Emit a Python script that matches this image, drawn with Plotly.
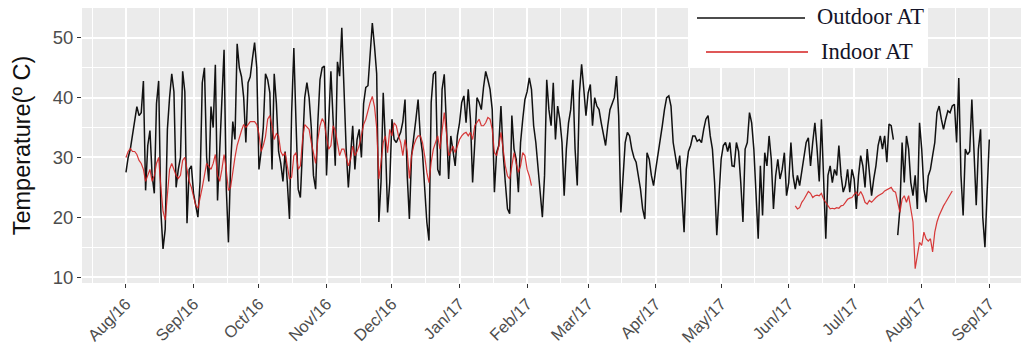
import pandas as pd
import plotly.graph_objects as go

# Daily outdoor air temperature (deg C), one list per month
out_aug16 = [27.5, 30, 31.4, 34, 36.5, 38.5, 37, 37.5, 42.8, 24.5, 32, 34.5, 27, 24, 39, 42.8,
             21, 14.7, 18, 34.7, 40, 44, 41, 25, 28, 30, 44.4, 41, 19, 28, 28.6]
out_sep16 = [24, 22, 20, 26, 42.5, 45, 30, 26, 38.5, 35, 45.5, 22.8, 31, 37.5, 48, 25,
             15.8, 28.6, 36, 33, 49, 45, 43.5, 40, 32.5, 42.5, 43.5, 46.5, 49.2, 45]
out_oct16 = [28, 31, 35, 44, 43, 40.8, 28, 44, 39, 31, 29, 26, 31, 25.8, 19.7, 37.5,
             48.3, 35.8, 24.7, 23.3, 32.5, 40, 42.5, 40, 35, 27, 24.7, 35.8, 43, 45, 45.3]
out_nov16 = [27, 36, 44.4, 36.4, 28.6, 46, 43.6, 51.7, 39.7, 31.4, 25, 31, 35.3, 28, 33,
             34.7, 30, 39, 41.7, 42, 47.5, 52.5, 48.6, 44, 19.2, 26, 40.8, 32.5, 20.8, 25.8]
out_dec16 = [36.4, 33, 32.5, 33.3, 34.2, 36, 39.7, 27, 19.7, 30.3, 33, 36.4, 39.7, 33.6,
             30.8, 25.8, 19.2, 16.1, 39.2, 43.9, 44.4, 28, 27, 41.4, 43.9, 35.3, 26.4, 33.6,
             30.8, 28.6, 33.6]
out_jan17 = [35.8, 39.2, 40.3, 35.8, 41.4, 36.4, 25.8, 32.5, 40, 39.2, 38, 41.7, 44.4, 43,
             41.4, 38, 24.2, 30.8, 32, 38.6, 30.8, 25.8, 21.4, 20.6, 37, 31.4, 29.7, 24.2,
             32.5, 36.4, 39.7]
out_feb17 = [41, 43.3, 41.4, 35.3, 32.5, 28, 24.7, 20, 27, 43, 38, 35.3, 42.5, 33, 38.6,
             36.4, 32.5, 23.6, 31.4, 35.8, 38, 43, 31.4, 25.3, 40.8, 45.6, 41.4, 37]
out_mar17 = [40.8, 42.2, 35.3, 40, 38.6, 38, 35.8, 33.6, 32, 35.3, 38, 39, 40, 43.6, 37,
             20.8, 27, 32.5, 34.2, 33.6, 31.4, 30, 29.2, 27, 24.7, 21.4, 19.7, 30.8, 29.7,
             27, 25.3]
out_apr17 = [28, 30.3, 32.5, 35.3, 38, 40, 40.3, 38.6, 32.5, 30.3, 28, 30.3, 23.6, 17.5,
             28, 31, 32, 33.6, 33.6, 32.7, 33, 32.5, 34.7, 36.4, 37, 33.6, 31.4, 25.8, 17, 23.6]
out_may17 = [29.7, 32, 32.5, 31, 32.5, 28.6, 28.5, 32.5, 31, 25.8, 19.2, 31.4, 32.5, 37.5,
             35.8, 31.4, 23.6, 16.4, 28.6, 20.3, 30.8, 28.6, 33.6, 29.7, 21.4, 26.9, 29.7,
             26.4, 28, 30.8, 23.6]
out_jun17 = [25.8, 32.5, 26.9, 24.7, 27, 25.3, 28, 30.3, 32.5, 33.3, 28.6, 32.5, 35.8, 31.4,
             26, 36.4, 25.8, 16.4, 27, 28.6, 25.8, 28, 27, 32, 27, 24.2, 25.3, 28, 24.2, 28]
out_jul17 = [26.4, 21.4, 26.9, 30.3, 28.6, 25, 31.4, 28, 23.6, 26.4, 28.6, 32, 33.6, 31.4,
             33.6, 29.2, 35.6, 35.3, 33, None, 17, 21.4, 32.5, 25.8, 33.6, 31.4, 25.8, 23.6,
             27, 21.4, 35.8]
out_aug17 = [31.4, 24.7, 22.5, 26.9, 28, 30.3, 32.5, 37.5, 38.6, 36.4, 34.7, 36.4, 37.8,
             37.5, 38.6, 38.9, 32.5, 43.3, 27, 20.3, 31.4, 30.5, 31, 39.7, 30.3, 22, 31.4,
             34.7, 20, 15, 24.2]
out_sep17 = [33]

# Daily indoor air temperature (deg C); None where no record exists
in_aug16 = [30, 31, 31.5, 31, 31, 30.5, 29.5, 29, 28, 26, 27, 28, 26, 27, 29, 30, 25, 21,
            19.5, 24, 28, 29, 28, 27, 26.5, 27, 29.5, 30, 28, 26, 25]
in_sep16 = [23.5, 22, 21.5, 23, 25, 27, 29, 28.5, 28, 29, 30.5, 27, 26, 28, 30.5, 28, 24.5,
            25, 28, 30, 32, 33.5, 34.5, 35.5, 35, 35.5, 36, 36, 36, 35.5]
in_oct16 = [34, 31, 32, 33.5, 36.4, 37, 35.3, 33, 34, 33.6, 31, 30.3, 30.8, 28.6, 26.4,
            26.7, 30.3, 30.8, 28, 28.6, 33, 35.5, 35, 34.7, 32.5, 30.8, 29, 33, 35.3, 36.5,
            35.8]
in_nov16 = [33.3, 31.4, 32, 35.3, 34.5, 32.5, 30.3, 31.4, 31.4, 30, 28.6, 29.7, 31.9, 30.3,
            31, 32, 34, 35.5, 36.4, 38, 39.2, 40.2, 38.5, 35, 26.4, 29.2, 32.5, 33.6, 30.8,
            34.7]
in_dec16 = [33.6, 35.8, 35.3, 33.6, 32.5, 30.3, 33, 31, 26.5, 30.3, 32, 33, 33.6, 33.6,
            32.5, 30.3, 27.5, 25.8, 29.2, 31.4, 32.5, 33.6, 31.4, 34.7, 37.5, 34, 30.3, 31,
            31.9, 30.8, 31.9]
in_jan17 = [33, 33.6, 34, 34.2, 33.6, 34.2, 33, 35.3, 35.8, 36.4, 35.3, 35.3, 35.8, 36.7,
            36.4, 34.7, 30.8, 30.3, 31.9, 34.2, 31.4, 28.6, 26.9, 26.4, 28.6, 30.8, 29, 27.5,
            28.6, 30.8, 30.3]
in_feb17 = [28, 26.9, 25.3] + [None] * 25
in_mar17 = [None] * 31
in_apr17 = [None] * 30
in_may17 = [None] * 31
in_jun17 = [None, None, None, 21.9, 21.4, 21.6, 22.5, 23, 23.8, 24.3, 24, 23.3, 23.6, 23.7,
            23.6, 24, 23, 22.5, 22, 21.4, 21.5, 21.4, 21.6, 21.5, 21.9, 22, 22.5, 23, 23.2,
            23.3]
in_jul17 = [23.8, 24.2, 23.6, 24.3, 23.6, 22.5, 22.2, 22.8, 22.5, 23, 23.3, 23.6, 23.8, 24,
            24.4, 24.6, 24.7, 25, 24.4, 24.2, 22.5, 20.8, 23, 23.6, 22.5, 23.6, 21.4, 19.2,
            11.4, 13.6, 15.8]
in_aug17 = [15.3, 17.5, 16.4, 16, 16.4, 14.2, 17.5, 19.2, 20.3, 21.2, 21.9, 22.5, 23.1,
            23.8, 24.4] + [None] * 16
in_sep17 = [None]

outdoor = (out_aug16 + out_sep16 + out_oct16 + out_nov16 + out_dec16 + out_jan17 + out_feb17
           + out_mar17 + out_apr17 + out_may17 + out_jun17 + out_jul17 + out_aug17 + out_sep17)
indoor = (in_aug16 + in_sep16 + in_oct16 + in_nov16 + in_dec16 + in_jan17 + in_feb17
          + in_mar17 + in_apr17 + in_may17 + in_jun17 + in_jul17 + in_aug17 + in_sep17)
dates = pd.date_range("2016-08-01", periods=len(outdoor), freq="D")

W, H = 1021, 351
ML, MR, MT, MB = 82, 0, 8, 68
PW, PH = W - ML - MR, H - MT - MB


def px(x):
    return (x - ML) / PW


def py(y):
    return (H - MB - y) / PH


fig = go.Figure()
fig.add_trace(go.Scatter(x=dates, y=outdoor, mode="lines", name="Outdoor AT",
                         line=dict(color="#111111", width=1.5), connectgaps=False))
fig.add_trace(go.Scatter(x=dates, y=indoor, mode="lines", name="Indoor AT",
                         line=dict(color="#d42020", width=1.2), opacity=0.88,
                         connectgaps=False))

tick_font = dict(family="Liberation Sans, Arial, sans-serif", color="#4d4d4d")

fig.update_layout(
    width=W, height=H,
    margin=dict(l=ML, r=MR, t=MT, b=MB),
    paper_bgcolor="white",
    plot_bgcolor="#ebebeb",
    showlegend=False,
    xaxis=dict(
        type="date",
        range=["2016-07-11 20:00", "2017-09-15 13:00"],
        tick0="2016-08-01", dtick="M1", tickformat="%b/%y",
        tickangle=-45, tickfont=dict(size=16.5, **tick_font),
        ticks="outside", ticklen=4, tickwidth=1.2, tickcolor="#333333",
        showgrid=True, gridcolor="white", gridwidth=1.6,
        minor=dict(tick0="2016-07-16 12:00", dtick="M1", showgrid=True,
                   gridcolor="white", gridwidth=0.8),
        zeroline=False, showline=False,
    ),
    yaxis=dict(
        range=[9.0, 55.0],
        tickvals=[10, 20, 30, 40, 50],
        tickfont=dict(size=18.5, **tick_font),
        ticks="outside", ticklen=4, tickwidth=1.2, tickcolor="#333333",
        showgrid=True, gridcolor="white", gridwidth=1.6,
        minor=dict(tickvals=[15, 25, 35, 45, 55], showgrid=True,
                   gridcolor="white", gridwidth=0.8),
        zeroline=False, showline=False,
        title=dict(text="Temperature(º C)", standoff=15,
                   font=dict(family="Liberation Sans, Arial, sans-serif", size=23.5,
                             color="#111111")),
    ),
)

# Legend panel: white box with line keys and serif labels
fig.add_shape(type="rect", xref="paper", yref="paper",
              x0=px(688), x1=px(928), y0=py(68), y1=py(0),
              fillcolor="white", line=dict(width=0), layer="above")
fig.add_shape(type="line", xref="paper", yref="paper",
              x0=px(697), x1=px(805), y0=py(18), y1=py(18),
              line=dict(color="#111111", width=1.6), layer="above")
fig.add_shape(type="line", xref="paper", yref="paper",
              x0=px(706), x1=px(808), y0=py(52), y1=py(52),
              line=dict(color="#d42020", width=1.6), layer="above")
legend_font = dict(family="Liberation Serif, Times New Roman, serif", size=22.5,
                   color="#141428")
fig.add_annotation(xref="paper", yref="paper", x=px(815), y=py(17), text="Outdoor AT",
                   showarrow=False, xanchor="left", yanchor="middle", font=legend_font)
fig.add_annotation(xref="paper", yref="paper", x=px(819), y=py(51), text="Indoor AT",
                   showarrow=False, xanchor="left", yanchor="middle", font=legend_font)

fig.write_html("out.html")
